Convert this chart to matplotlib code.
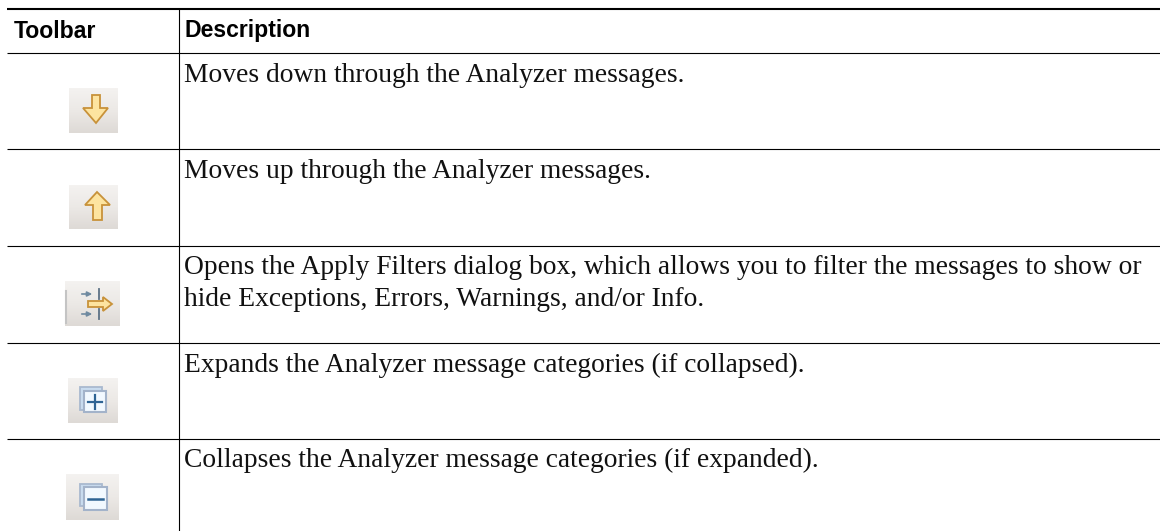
import numpy as np
import matplotlib.pyplot as plt
from matplotlib.colors import LinearSegmentedColormap
from matplotlib.patches import Polygon, Rectangle

headers = ['Toolbar', 'Description']
descriptions = [
    ['Moves down through the Analyzer messages.'],
    ['Moves up through the Analyzer messages.'],
    ['Opens the Apply Filters dialog box, which allows you to filter the messages to show or',
     'hide Exceptions, Errors, Warnings, and/or Info.'],
    ['Expands the Analyzer message categories (if collapsed).'],
    ['Collapses the Analyzer message categories (if expanded).'],
]
rule_rows = [53, 149, 246, 343, 439]
text_rows = [82.5, 178, 274, 372, 467]
icon_boxes = [(69, 118, 88, 133), (69, 118, 185, 229), (65, 120, 281, 326),
              (68, 118, 378, 423), (66, 119, 474, 520)]

W, H = 1160, 531
fig = plt.figure(figsize=(W / 100, H / 100), dpi=100)
ax = fig.add_axes([0, 0, 1, 1])
ax.axis('off')

# table rules
ax.plot([7, W], [9, 9], color='black', lw=1.5, solid_capstyle='butt')
for y in rule_rows:
    ax.plot([7, W], [y, y], color='black', lw=0.8, solid_capstyle='butt')
ax.plot([178.5, 178.5], [9, H], color='black', lw=0.8, solid_capstyle='butt')

ax.text(14, 37.5, headers[0], family='Liberation Sans', weight='bold', fontsize=16.6, color='black')
ax.text(184, 37.5, headers[1], family='Liberation Sans', weight='bold', fontsize=16.6, color='black')

for lines, y in zip(descriptions, text_rows):
    for i, line in enumerate(lines):
        ax.text(184, y + i * 32, line, family='Liberation Serif', fontsize=19.85, color='#111111')

# icon backgrounds
grad = np.linspace(0, 1, 32).reshape(-1, 1)
bg_cmap = LinearSegmentedColormap.from_list('bg', ['#f4f2f0', '#ece9e6', '#dedad6'])
for x0, x1, y0, y1 in icon_boxes:
    ax.imshow(grad, extent=(x0, x1, y1, y0), aspect='auto', zorder=1, cmap=bg_cmap)
ax.set_xlim(0, W)
ax.set_ylim(H, 0)

orange_edge = '#c8923a'
orange_fill = '#fde4a0'


def arrow(points):
    ax.add_patch(Polygon(points, closed=True, fc=orange_fill, ec=orange_edge, lw=1.3, zorder=3))


arrow([(92, 95), (100, 95), (100, 108), (108, 108), (96, 123), (83, 108), (92, 108)])
arrow([(97, 192), (110, 205), (102, 205), (102, 220), (93, 220), (93, 205), (85, 205)])

# filter icon
ax.plot([66, 66], [291, 323], color='#c4c4c4', lw=1.5, zorder=3)
for y in [294, 314]:
    ax.annotate('', xy=(95, y), xytext=(79, y), zorder=3,
                arrowprops=dict(arrowstyle='-|>', color='#6f8aa0', lw=1.2, mutation_scale=7))
    ax.plot([99, 99], [y - 5, y + 5], color='#5d7286', lw=1.3, zorder=3)
arrow([(88, 301), (103, 301), (103, 297), (112, 304), (103, 311), (103, 307), (88, 307)])


def stack(bx0, bx1, by0, by1, fx0, fx1, fy0, fy1):
    ax.add_patch(Rectangle((bx0, by0), bx1 - bx0, by1 - by0, fc='#c9dcef', ec='#a9b9cf', lw=1.3, zorder=3))
    ax.add_patch(Rectangle((fx0, fy0), fx1 - fx0, fy1 - fy0, fc='#f2f9ff', ec='#a3b3ca', lw=1.5, zorder=4))


stack(80, 102, 387, 410, 84, 106, 391, 412)
ax.plot([88, 102], [402, 402], color='#2f6494', lw=1.6, zorder=5)
ax.plot([95, 95], [395, 409], color='#2f6494', lw=1.6, zorder=5)

stack(80, 102, 484, 506, 84, 107, 487, 510)
ax.plot([88, 103], [499, 499], color='#2f6494', lw=1.8, zorder=5)

fig.savefig('out.png', dpi=100)
